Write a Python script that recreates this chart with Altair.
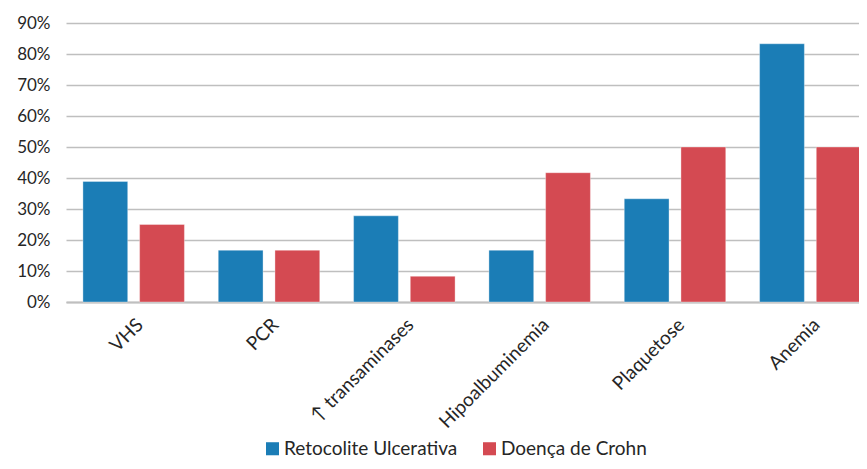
import altair as alt
import pandas as pd

categories = ["VHS", "PCR", "↑ transaminases", "Hipoalbuminemia", "Plaquetose", "Anemia"]
series = ["Retocolite Ulcerativa", "Doença de Crohn"]
rcu = [0.389, 0.167, 0.278, 0.167, 0.333, 0.833]
dc = [0.25, 0.167, 0.083, 0.417, 0.50, 0.50]
y_ticks = [0, 0.1, 0.2, 0.3, 0.4, 0.5, 0.6, 0.7, 0.8, 0.9]
colors = ["#1B7DB6", "#D44A52"]

rows = []
for c, a, b in zip(categories, rcu, dc):
    rows.append({"cat": c, "serie": series[0], "val": a})
    rows.append({"cat": c, "serie": series[1], "val": b})
df = pd.DataFrame(rows)

FONT = "Lato"

chart = alt.Chart(df).mark_bar(
    stroke="#ffffff", strokeOpacity=0.35, strokeWidth=1
).encode(
    x=alt.X("cat:N", sort=categories, title=None,
            scale=alt.Scale(paddingInner=0.25, paddingOuter=0.125, range=[0, 812]),
            axis=alt.Axis(labelAngle=-45, labelFontSize=19, labelColor="#262626",
                          labelFont=FONT, ticks=False, domain=True, domainColor="#BFBFBF",
                          domainWidth=2, labelPadding=13, labelLimit=300)),
    xOffset=alt.XOffset("serie:N", sort=series,
                        scale=alt.Scale(paddingInner=0.21, paddingOuter=0)),
    y=alt.Y("val:Q", title=None,
            scale=alt.Scale(domain=[0, 0.9], nice=False),
            axis=alt.Axis(values=y_ticks, format=".0%", labelFontSize=17,
                          labelColor="#262626", labelFont=FONT, ticks=False,
                          domain=False, grid=True, gridColor="#BFBFBF", gridWidth=1.5,
                          labelPadding=16)),
    color=alt.Color("serie:N", sort=series,
                    scale=alt.Scale(domain=series, range=colors),
                    legend=alt.Legend(title=None, orient="none", direction="horizontal",
                                      legendX=197, legendY=416, symbolType="square",
                                      symbolSize=170, symbolStrokeWidth=0,
                                      labelFontSize=19, labelFont=FONT, labelLimit=400,
                                      labelColor="#262626", columnPadding=22,
                                      labelOffset=2)),
).properties(
    width=793, height=279,
    autosize=alt.AutoSizeParams(type="none"),
    padding={"left": 58, "top": 15, "right": 0, "bottom": 159},
).configure_view(stroke=None)

chart.save("out.html", embed_options={"renderer": "svg", "actions": False})
